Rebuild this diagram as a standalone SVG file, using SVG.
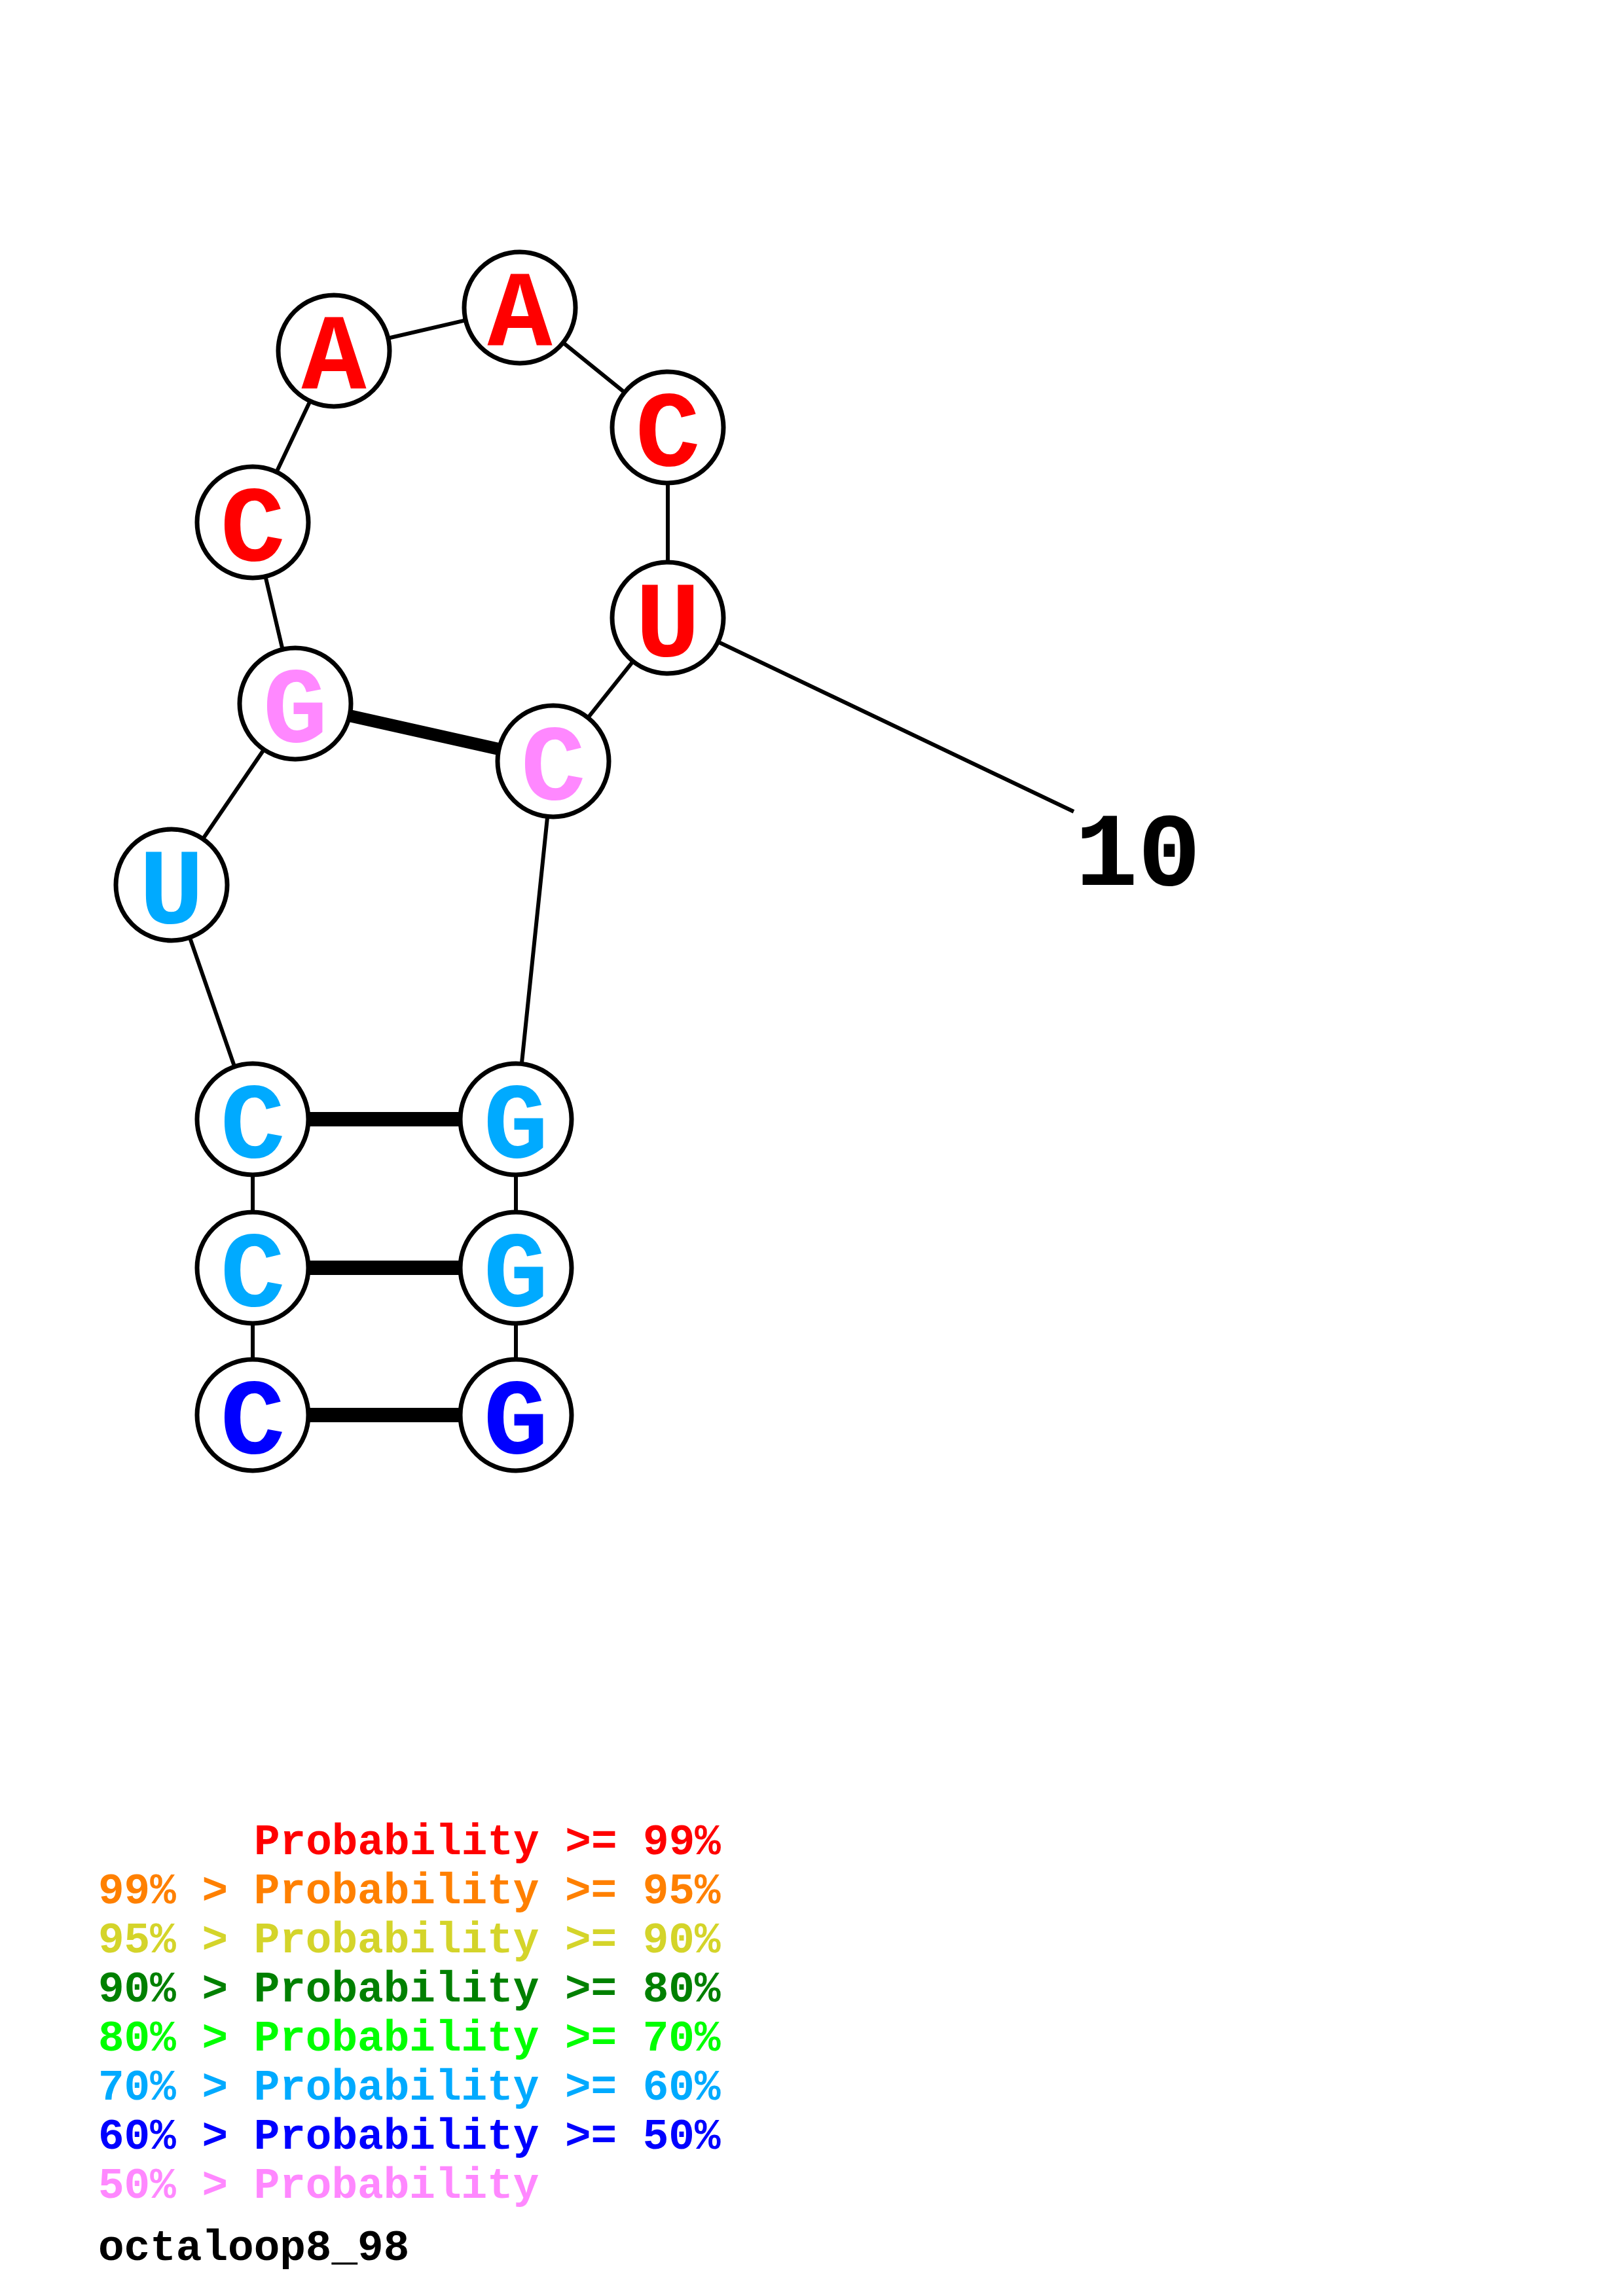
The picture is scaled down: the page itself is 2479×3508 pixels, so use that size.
<svg xmlns="http://www.w3.org/2000/svg" width="2479" height="3508" viewBox="0 0 2479 3508">
<style>
.bb{stroke:#000;stroke-width:6;fill:none}
.bp{stroke:#000;stroke-width:22;fill:none}
.nd circle{fill:#fff;stroke:#000;stroke-width:7}
.nd text{font-family:"Liberation Mono","DejaVu Sans Mono",monospace;font-weight:bold;font-size:165px;text-anchor:middle}
.lg{font-family:"Liberation Mono","DejaVu Sans Mono",monospace;font-weight:bold;font-size:66px}
.r{fill:#FF0000}.o{fill:#FF8000}.y{fill:#D4D42A}.dg{fill:#008000}.g{fill:#00FF00}.lb{fill:#00AAFF}.b{fill:#0000FF}.p{fill:#FF88FF}.k{fill:#000}
</style>
<rect width="2479" height="3508" fill="#fff"/>
<g id="connectors">
<line class="bb" x1="386" y1="2162" x2="386" y2="1937"/>
<line class="bb" x1="386" y1="1937" x2="386" y2="1710"/>
<line class="bb" x1="386" y1="1710" x2="262" y2="1352"/>
<line class="bb" x1="262" y1="1352" x2="451" y2="1075"/>
<line class="bb" x1="451" y1="1075" x2="386" y2="798"/>
<line class="bb" x1="386" y1="798" x2="510" y2="536"/>
<line class="bb" x1="510" y1="536" x2="794" y2="470"/>
<line class="bb" x1="794" y1="470" x2="1020" y2="653"/>
<line class="bb" x1="1020" y1="653" x2="1020" y2="944"/>
<line class="bb" x1="1020" y1="944" x2="845" y2="1163"/>
<line class="bb" x1="845" y1="1163" x2="788" y2="1710"/>
<line class="bb" x1="788" y1="1710" x2="788" y2="1937"/>
<line class="bb" x1="788" y1="1937" x2="788" y2="2162"/>
<line class="bb" x1="1020" y1="944" x2="1640" y2="1240"/>
<line class="bp" x1="386" y1="2162" x2="788" y2="2162"/>
<line class="bp" x1="386" y1="1937" x2="788" y2="1937"/>
<line class="bp" x1="386" y1="1710" x2="788" y2="1710"/>
<line class="bp" x1="451" y1="1075" x2="845" y2="1163" style="stroke-width:19"/>
</g>
<g id="n1" class="nd"><circle cx="386" cy="2162" r="85"/><text x="386" y="2220" class="b">C</text></g>
<g id="n2" class="nd"><circle cx="386" cy="1937" r="85"/><text x="386" y="1995" class="lb">C</text></g>
<g id="n3" class="nd"><circle cx="386" cy="1710" r="85"/><text x="386" y="1768" class="lb">C</text></g>
<g id="n4" class="nd"><circle cx="262" cy="1352" r="85"/><text x="262" y="1410" class="lb">U</text></g>
<g id="n5" class="nd"><circle cx="451" cy="1075" r="85"/><text x="451" y="1133" class="p">G</text></g>
<g id="n6" class="nd"><circle cx="386" cy="798" r="85"/><text x="386" y="856" class="r">C</text></g>
<g id="n7" class="nd"><circle cx="510" cy="536" r="85"/><text x="510" y="594" class="r">A</text></g>
<g id="n8" class="nd"><circle cx="794" cy="470" r="85"/><text x="794" y="528" class="r">A</text></g>
<g id="n9" class="nd"><circle cx="1020" cy="653" r="85"/><text x="1020" y="711" class="r">C</text></g>
<g id="n10" class="nd"><circle cx="1020" cy="944" r="85"/><text x="1020" y="1002" class="r">U</text></g>
<g id="n11" class="nd"><circle cx="845" cy="1163" r="85"/><text x="845" y="1221" class="p">C</text></g>
<g id="n12" class="nd"><circle cx="788" cy="1710" r="85"/><text x="788" y="1768" class="lb">G</text></g>
<g id="n13" class="nd"><circle cx="788" cy="1937" r="85"/><text x="788" y="1995" class="lb">G</text></g>
<g id="n14" class="nd"><circle cx="788" cy="2162" r="85"/><text x="788" y="2220" class="b">G</text></g>
<g id="label10"><text x="1642" y="1352" font-family="Liberation Mono, DejaVu Sans Mono, monospace" font-weight="bold" font-size="160" class="k">10</text></g>
<g id="legend" class="lg">
<text x="388" y="2833" class="r">Probability &gt;= 99%</text>
<text x="150" y="2908" class="o">99% &gt; Probability &gt;= 95%</text>
<text x="150" y="2983" class="y">95% &gt; Probability &gt;= 90%</text>
<text x="150" y="3058" class="dg">90% &gt; Probability &gt;= 80%</text>
<text x="150" y="3133" class="g">80% &gt; Probability &gt;= 70%</text>
<text x="150" y="3208" class="lb">70% &gt; Probability &gt;= 60%</text>
<text x="150" y="3283" class="b">60% &gt; Probability &gt;= 50%</text>
<text x="150" y="3358" class="p">50% &gt; Probability</text>
<text x="150" y="3453" class="k">octaloop8_98</text>
</g>
</svg>
